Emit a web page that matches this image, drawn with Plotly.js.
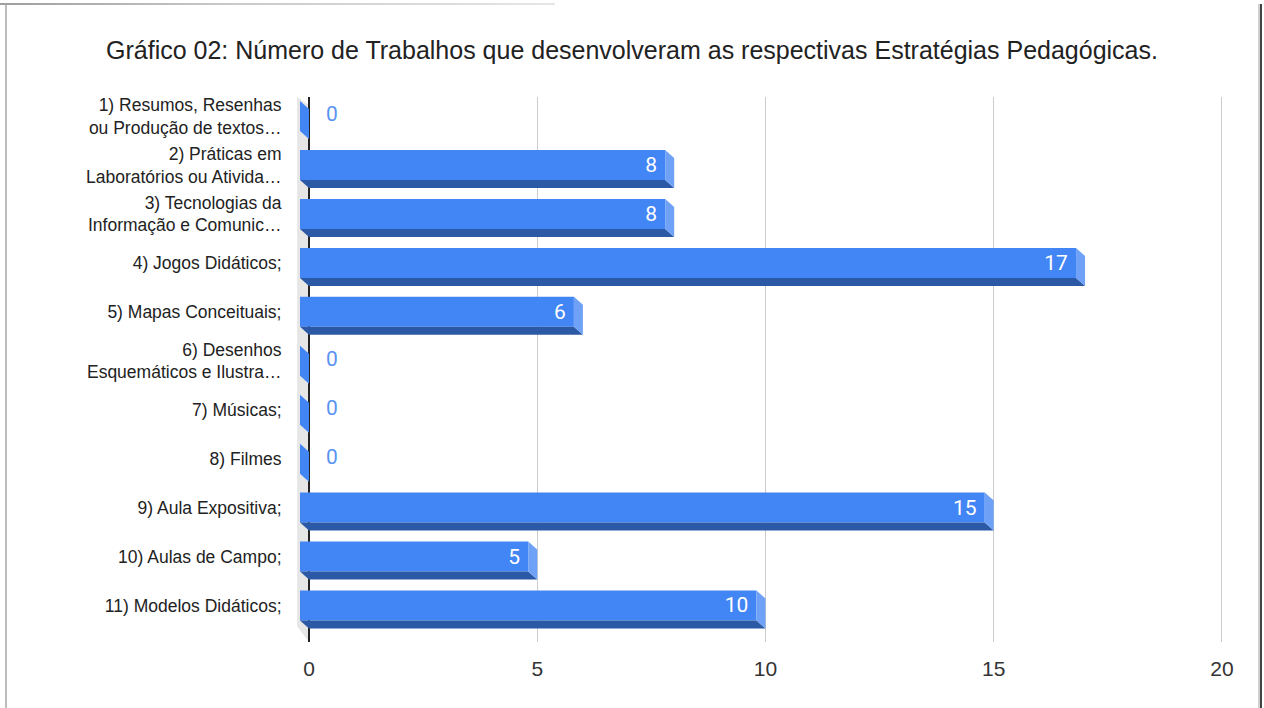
<!DOCTYPE html>
<html>
<head>
<meta charset="utf-8">
<script src="https://cdn.plot.ly/plotly-3.0.1.min.js"></script>
<style>
  html, body { margin: 0; padding: 0; background: #ffffff; }
  #wrap { position: relative; width: 1264px; height: 708px; overflow: hidden; background: #fff; }
  #chart { position: absolute; left: 0; top: 0; width: 1264px; height: 708px; }
  .frameL { position: absolute; left: 5px; top: 4px; width: 2px; height: 704px; background: #bdbdbd; }
  .frameT { position: absolute; left: 0; top: 3px; width: 555px; height: 2px; background: linear-gradient(to right, #9e9e9e, #c8c8c8 40%, #e6e6e6); }
  .frameR { position: absolute; left: 1260px; top: 4px; width: 2px; height: 704px; background: #444; }
  .frameR2 { position: absolute; left: 1258px; top: 4px; width: 2px; height: 704px; background: #cfcfcf; }
</style>
</head>
<body>
<div id="wrap">
  <div id="chart"></div>
  <div class="frameL"></div>
  <div class="frameT"></div>
  <div class="frameR2"></div>
  <div class="frameR"></div>
</div>
<script>
// ---- data ----
const chartTitle = "Gráfico 02: Número de Trabalhos que desenvolveram as respectivas Estratégias Pedagógicas.";
const categories = [
  "1) Resumos, Resenhas<br>ou Produção de textos…",
  "2) Práticas em<br>Laboratórios ou Ativida…",
  "3) Tecnologias da<br>Informação e Comunic…",
  "4) Jogos Didáticos;",
  "5) Mapas Conceituais;",
  "6) Desenhos<br>Esquemáticos e Ilustra…",
  "7) Músicas;",
  "8) Filmes",
  "9) Aula Expositiva;",
  "10) Aulas de Campo;",
  "11) Modelos Didáticos;"
];
const values = [0, 8, 8, 17, 6, 0, 0, 0, 15, 5, 10];
const xTickValues = [0, 5, 10, 15, 20];

// ---- styling constants ----
const FRONT = "#4285f4";
const BOTTOM = "#2c59a6";
const SIDE = "#6fa2f6";
const WALL = "#e6e6e6";
const DX = 0.197;   // 3D depth, x units
const DY = 0.163;   // 3D depth, category units
const BARH = 0.613; // front face height, category units
const X_RANGE = [-0.2848, 20.088];
const Y_RANGE = [10.746, -0.39];

const idx = categories.map((_, i) => i);
const half = BARH / 2;

// front face bars
const frontTrace = {
  type: "bar",
  orientation: "h",
  y: idx,
  x: values,
  base: values.map(() => -DX),
  width: values.map(() => BARH),
  marker: { color: FRONT, line: { width: 0 } },
  text: values.map(v => v > 0 ? String(v) + "\u00a0" : ""),
  textposition: values.map(v => v > 0 ? "inside" : "none"),
  insidetextanchor: "end",
  textangle: 0,
  textfont: { family: "Roboto, Arial, sans-serif", size: 21, color: "#ffffff" },
  constraintext: "none",
  cliponaxis: false,
  hoverinfo: "skip",
  showlegend: false
};

// zero labels (outside, blue)
const zeroIdx = idx.filter(i => values[i] === 0);
const zeroTrace = {
  type: "scatter",
  mode: "text",
  y: zeroIdx,
  x: zeroIdx.map(() => 0.5),
  text: zeroIdx.map(i => String(values[i])),
  textposition: "middle center",
  textfont: { family: "Roboto, Arial, sans-serif", size: 21, color: "#5b93f1" },
  hoverinfo: "skip",
  showlegend: false
};

// 3D faces as shapes in data coordinates
const shapes = [];
// left wall
const wdx = 0.26;
shapes.push({
  type: "path", xref: "x", yref: "y", layer: "below",
  path: `M ${-wdx} ${Y_RANGE[1]} L 0 ${Y_RANGE[1] + DY} L 0 ${Y_RANGE[0]} L ${-wdx} ${Y_RANGE[0] - 0.32} Z`,
  fillcolor: WALL, line: { width: 0 }
});
idx.forEach(i => {
  const v = values[i];
  const t = i - half, b = i + half;
  // bottom face
  shapes.push({
    type: "path", xref: "x", yref: "y", layer: "above",
    path: `M ${-DX} ${b} L ${v - DX} ${b} L ${v} ${b + DY} L 0 ${b + DY} Z`,
    fillcolor: BOTTOM, line: { width: 0 }
  });
  // right side face
  shapes.push({
    type: "path", xref: "x", yref: "y", layer: "above",
    path: `M ${v - DX} ${t} L ${v} ${t + DY} L ${v} ${b + DY} L ${v - DX} ${b} Z`,
    fillcolor: v > 0 ? SIDE : FRONT, line: { width: 0 }
  });
});

const layout = {
  width: 1264, height: 708,
  paper_bgcolor: "rgba(0,0,0,0)",
  plot_bgcolor: "rgba(0,0,0,0)",
  margin: { l: 296, r: 38, t: 97, b: 66, pad: 0 },
  title: {
    text: chartTitle,
    font: { family: "Liberation Sans, Arial, sans-serif", size: 25, color: "#222222" },
    x: 0.5, xanchor: "center", xref: "container",
    y: 1 - 50 / 708, yanchor: "middle", yref: "container"
  },
  xaxis: {
    range: X_RANGE,
    tickvals: xTickValues,
    ticktext: xTickValues.map(String),
    ticks: "outside", ticklen: 8, tickcolor: "rgba(0,0,0,0)",
    tickfont: { family: "Liberation Sans, Arial, sans-serif", size: 21, color: "#333333" },
    showgrid: true, gridcolor: "#cccccc", gridwidth: 1,
    zeroline: true, zerolinecolor: "#222222", zerolinewidth: 1.6,
    showline: false, fixedrange: true
  },
  yaxis: {
    range: Y_RANGE,
    tickvals: idx,
    ticktext: categories,
    ticks: "outside", ticklen: 10, tickcolor: "rgba(0,0,0,0)",
    tickfont: { family: "Liberation Sans, Arial, sans-serif", size: 17.5, color: "#222222" },
    showgrid: false, zeroline: false, showline: false, fixedrange: true
  },
  barmode: "overlay",
  shapes: shapes,
  showlegend: false
};

Plotly.newPlot("chart", [frontTrace, zeroTrace], layout, { displayModeBar: false, staticPlot: true });
</script>
</body>
</html>
